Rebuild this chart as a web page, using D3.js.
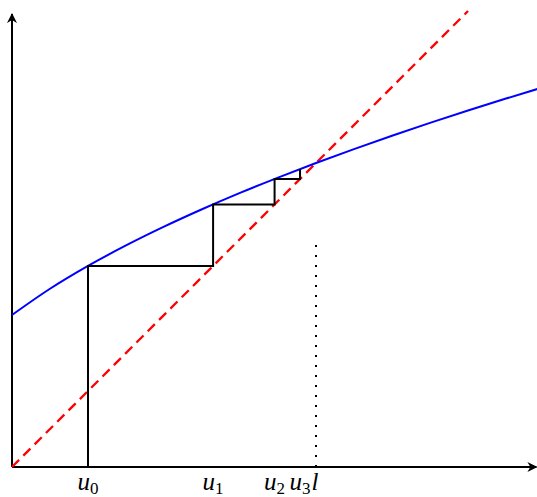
<!DOCTYPE html>
<html>
<head>
<meta charset="utf-8">
<script src="https://cdn.jsdelivr.net/npm/d3@7"></script>
<style>
  html, body { margin: 0; padding: 0; background: #fff; }
  svg { display: block; }
</style>
</head>
<body>
<svg id="chart" width="537" height="497"></svg>
<script>
// ---- data ----
const curveX = [0, 0.5, 1, 1.5, 2, 2.5, 3, 3.5, 4, 4.5, 5, 5.5, 6, 6.5, 7];
const curveY = [2, 2.345, 2.646, 2.915, 3.162, 3.391, 3.606, 3.808, 4, 4.183, 4.359, 4.528, 4.69, 4.848, 5];
const iterates = [1, 2.646, 3.455, 3.79, 3.921];     // u0..u4
const iterateLabels = ["0", "1", "2", "3"];
const fixedPoint = 4;
const fixedLabel = "l";
const diagonal = [0, 6];
const xMax = 6.9, yMax = 5.96;

// ---- scales ----
const x = d3.scaleLinear().domain([0, 7]).range([12, 544]);
const y = d3.scaleLinear().domain([0, 6]).range([467, 11]);

const svg = d3.select("#chart");
const defs = svg.append("defs");
defs.append("marker")
  .attr("id", "arrow").attr("viewBox", "0 0 10 10")
  .attr("refX", 9).attr("refY", 5)
  .attr("markerWidth", 5).attr("markerHeight", 5)
  .attr("markerUnits", "strokeWidth")
  .attr("orient", "auto")
  .append("path").attr("d", "M0,0 L10,5 L0,10 L3,5 Z").attr("fill", "#000");

// axes
svg.append("line")
  .attr("x1", x(0)).attr("y1", y(0)).attr("x2", x(xMax)).attr("y2", y(0))
  .attr("stroke", "#000").attr("stroke-width", 2).attr("marker-end", "url(#arrow)");
svg.append("line")
  .attr("x1", x(0)).attr("y1", y(0)).attr("x2", x(0)).attr("y2", y(yMax))
  .attr("stroke", "#000").attr("stroke-width", 2).attr("marker-end", "url(#arrow)");

// diagonal y = x
svg.append("line")
  .attr("x1", x(diagonal[0])).attr("y1", y(diagonal[0]))
  .attr("x2", x(diagonal[1])).attr("y2", y(diagonal[1]))
  .attr("stroke", "#ff0000").attr("stroke-width", 2.3)
  .attr("stroke-dasharray", "10,6");

// blue curve
const pts = curveX.map((d, i) => [d, curveY[i]]);
svg.append("path")
  .datum(pts)
  .attr("d", d3.line().x(d => x(d[0])).y(d => y(d[1])).curve(d3.curveMonotoneX))
  .attr("fill", "none").attr("stroke", "#0000ff").attr("stroke-width", 2);

// cobweb
const web = [[iterates[0], 0]];
for (let i = 0; i < iterates.length - 1; i++) {
  web.push([iterates[i], iterates[i + 1]]);
  if (i + 1 < iterates.length - 1) web.push([iterates[i + 1], iterates[i + 1]]);
}
svg.append("path")
  .datum(web)
  .attr("d", d3.line().x(d => x(d[0])).y(d => y(d[1])))
  .attr("fill", "none").attr("stroke", "#000").attr("stroke-width", 2)
  .attr("stroke-linejoin", "miter");

// dotted line at fixed point
svg.append("line")
  .attr("x1", x(fixedPoint)).attr("y1", y(0))
  .attr("x2", x(fixedPoint)).attr("y2", y(3))
  .attr("stroke", "#000").attr("stroke-width", 2)
  .attr("stroke-dasharray", "2,8");

// labels
const font = "'Liberation Serif', 'DejaVu Serif', serif";
iterateLabels.forEach((lab, i) => {
  const t = svg.append("text")
    .attr("x", x(iterates[i])).attr("y", 490)
    .attr("text-anchor", "middle")
    .attr("font-family", font).attr("font-size", 25);
  t.append("tspan").attr("font-style", "italic").text("u");
  t.append("tspan").attr("font-size", 17).attr("dy", 4).text(lab);
});
svg.append("text")
  .attr("x", x(fixedPoint) - 1).attr("y", 490)
  .attr("text-anchor", "middle")
  .attr("font-family", font).attr("font-size", 25).attr("font-style", "italic")
  .text(fixedLabel);
</script>
</body>
</html>
